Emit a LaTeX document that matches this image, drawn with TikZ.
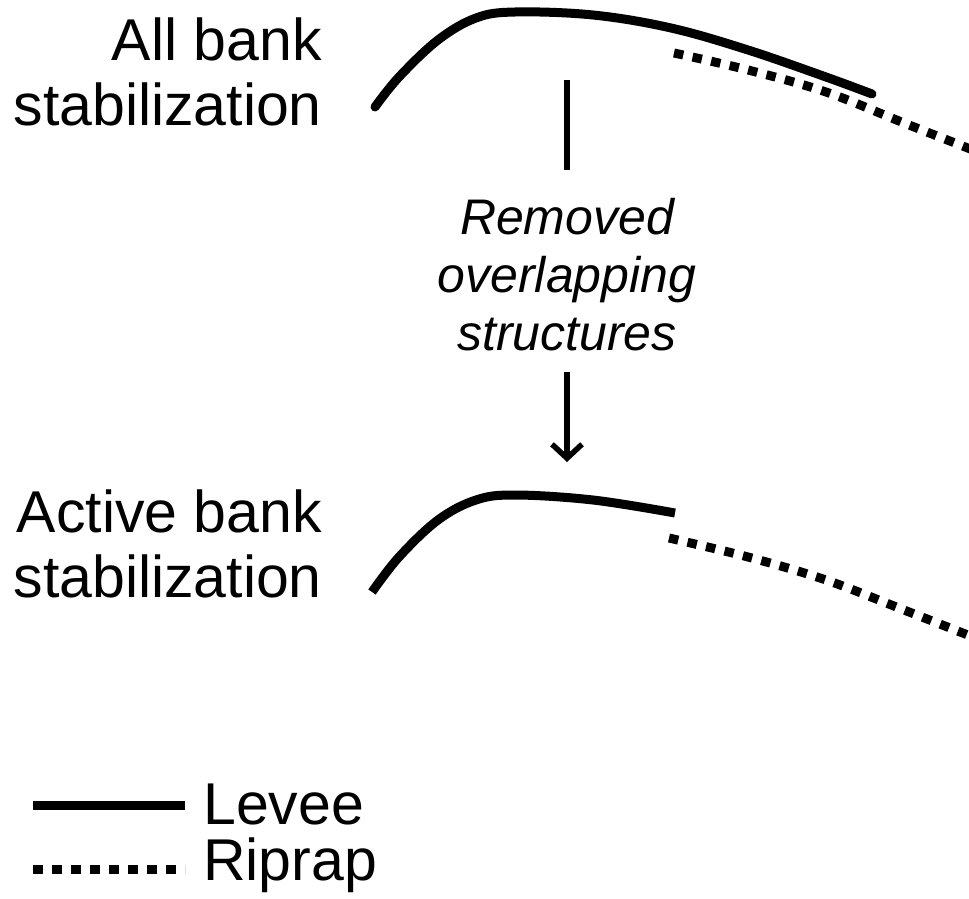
\documentclass[tikz,border=0pt]{standalone}
\usepackage{fontspec}
\setmainfont{Liberation Sans}
\usetikzlibrary{arrows.meta}
\usetikzlibrary{positioning}

\begin{document}
\begin{tikzpicture}[x=1pt,y=-1pt,
  leveeline/.style={line width=9pt},
  ripline/.style={line width=9pt,dash pattern=on 9.5pt off 9.5pt},
  bigtext/.style={inner sep=0pt,font=\fontsize{59}{65}\selectfont},
  steptext/.style={inner sep=0pt,align=center,font=\fontsize{50}{58}\selectfont\itshape}]
  \useasboundingbox (0,0) rectangle (969,899);
  \node[bigtext,align=right,anchor=base east](allbank) at (322,125) {All bank\\stabilization};
  \node[bigtext,align=right,anchor=base east](activebank) at (322,597) {Active bank\\stabilization};
  \node[steptext,anchor=base](removed) at (567,350) {Removed\\overlapping\\structures};
  \coordinate (linetop) at (567,80);
  \coordinate (linebot) at (567,170);
  \coordinate (arrtop) at (567,372);
  \coordinate (arrbot) at (567,462);
  \draw[line width=5.5pt] (linetop)--(linebot);
  \draw[line width=5.5pt,-{Straight Barb[length=14pt,width=30pt]}] (arrtop)--(arrbot);
  \draw[ripline] plot[smooth,tension=0.6] coordinates {(674,53) (748,70) (826,92) (904,123) (978,152)};
  \draw[leveeline,line cap=round] plot[smooth,tension=0.6] coordinates {(375,107) (399,77) (438,40) (476,18) (515,12) (593,15) (671,28) (748,50) (826,77) (872,94)};
  \draw[ripline] plot[smooth,tension=0.6] coordinates {(669,538) (748,557) (826,580) (904,610) (978,639)};
  \draw[leveeline] plot[smooth,tension=0.6] coordinates {(372,592) (399,557) (438,520) (476,500) (515,495) (593,500) (675,513)};
  \node[bigtext,anchor=base west](levee) at (203,824) {Levee};
  \node[bigtext,anchor=base west](riprap) at (203,880) {Riprap};
  \coordinate (levA) at (33,805);
  \coordinate (levB) at (185,805);
  \coordinate (ripA) at (33,869);
  \coordinate (ripB) at (185,869);
  \draw[leveeline] (levA)--(levB);
  \draw[ripline] (ripA)--(ripB);
\end{tikzpicture}
\end{document}
